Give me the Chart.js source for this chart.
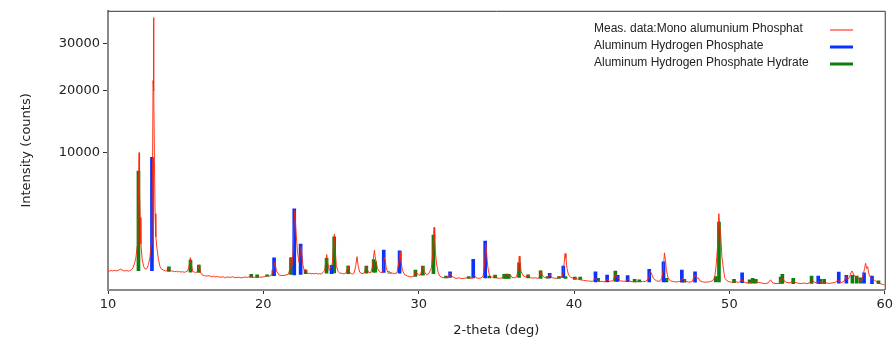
<!DOCTYPE html>
<html>
<head>
<meta charset="utf-8">
<script src="https://cdn.jsdelivr.net/npm/chart.js@4.4.1/dist/chart.umd.min.js"></script>
<style>
  html, body { margin: 0; padding: 0; background: #fff; }
  #wrap { width: 896px; height: 338px; }
</style>
</head>
<body>
<div id="wrap"><canvas id="xrdChart" width="896" height="338"></canvas></div>
<script>
// measured pattern: [2-theta, counts]
const measured = [
  [10.0, 440], [10.1, 425], [10.2, 445], [10.3, 430], [10.4, 450], [10.5, 435], [10.6, 440], [10.7, 455],
  [10.8, 480], [10.9, 460], [11.0, 440], [11.1, 430], [11.2, 445], [11.3, 425], [11.4, 440], [11.5, 460],
  [11.6, 520], [11.7, 650], [11.8, 900], [11.88, 1400], [11.93, 2800], [11.97, 6000], [12.0, 10000],
  [12.03, 5500], [12.07, 3200], [12.12, 1500], [12.2, 800], [12.3, 560], [12.4, 480], [12.5, 500],
  [12.6, 620], [12.7, 900], [12.78, 1500], [12.83, 2600], [12.87, 9000], [12.9, 22000], [12.93, 36300],
  [12.96, 20000], [12.99, 9000], [13.03, 3500], [13.08, 1900], [13.15, 1300], [13.25, 800], [13.35, 560],
  [13.45, 480], [13.6, 450], [13.7, 430], [13.8, 440], [13.9, 470], [13.95, 520], [14.0, 460], [14.1, 430],
  [14.2, 420], [14.3, 410], [14.4, 425], [14.5, 405], [14.6, 415], [14.7, 400], [14.8, 410], [14.9, 395],
  [15.0, 405], [15.1, 420], [15.2, 520], [15.3, 880], [15.36, 650], [15.45, 420], [15.55, 400], [15.65, 390],
  [15.75, 410], [15.82, 560], [15.87, 620], [15.95, 400], [16.05, 330], [16.2, 310], [16.35, 300], [16.5, 310],
  [16.6, 295], [16.7, 285], [16.8, 300], [16.9, 280], [17.0, 290], [17.2, 275], [17.4, 285], [17.5, 265],
  [17.7, 280], [17.9, 270], [18.0, 285], [18.2, 265], [18.4, 275], [18.6, 260], [18.8, 280], [19.0, 270],
  [19.2, 300], [19.3, 275], [19.5, 270], [19.7, 280], [19.9, 275], [20.1, 290], [20.25, 320], [20.4, 300],
  [20.55, 330], [20.65, 480], [20.72, 700], [20.78, 600], [20.85, 420], [21.0, 330], [21.2, 310], [21.4, 320],
  [21.6, 340], [21.72, 500], [21.78, 900], [21.85, 600], [21.92, 1200], [21.98, 3000], [22.02, 3750],
  [22.07, 2800], [22.12, 2000], [22.2, 1100], [22.3, 700], [22.36, 1000], [22.42, 1380], [22.48, 1000],
  [22.55, 600], [22.65, 420], [22.72, 480], [22.8, 380], [22.9, 360], [23.0, 370], [23.1, 350], [23.2, 365],
  [23.3, 355], [23.4, 370], [23.5, 350], [23.6, 360], [23.7, 350], [23.8, 370], [23.95, 450], [24.03, 800],
  [24.08, 1010], [24.15, 650], [24.25, 450], [24.35, 520], [24.45, 700], [24.52, 1500], [24.57, 2060],
  [24.62, 1300], [24.7, 600], [24.8, 420], [24.9, 380], [25.0, 370], [25.1, 360], [25.2, 355], [25.3, 370],
  [25.4, 480], [25.47, 590], [25.55, 400], [25.65, 360], [25.75, 350], [25.85, 380], [25.95, 600], [26.03, 920],
  [26.1, 600], [26.2, 400], [26.35, 360], [26.5, 380], [26.6, 520], [26.65, 560], [26.75, 400], [26.9, 380],
  [27.0, 500], [27.08, 820], [27.15, 1200], [27.2, 900], [27.27, 700], [27.35, 500], [27.45, 420], [27.55, 390],
  [27.7, 400], [27.78, 900], [27.84, 800], [27.9, 550], [28.0, 400], [28.1, 420], [28.2, 380], [28.3, 370],
  [28.45, 360], [28.6, 380], [28.72, 700], [28.8, 1150], [28.86, 750], [28.95, 450], [29.1, 330], [29.3, 300],
  [29.5, 280], [29.6, 290], [29.7, 300], [29.8, 420], [29.87, 380], [30.0, 330], [30.1, 320], [30.2, 450],
  [30.28, 570], [30.35, 420], [30.5, 330], [30.65, 360], [30.75, 450], [30.82, 520], [30.9, 1000], [30.95, 1900],
  [30.99, 2500], [31.03, 1800], [31.08, 1100], [31.15, 650], [31.25, 400], [31.35, 300], [31.5, 270], [31.7, 260],
  [31.8, 280], [31.9, 255], [32.0, 330], [32.05, 380], [32.12, 300], [32.25, 270], [32.4, 250], [32.6, 260],
  [32.8, 245], [33.0, 255], [33.2, 270], [33.35, 250], [33.5, 260], [33.6, 320], [33.7, 260], [33.85, 250],
  [34.0, 255], [34.15, 300], [34.25, 700], [34.32, 1530], [34.38, 1000], [34.45, 550], [34.55, 320], [34.7, 270],
  [34.9, 300], [35.0, 260], [35.2, 250], [35.4, 260], [35.55, 320], [35.65, 340], [35.75, 300], [35.9, 330],
  [36.0, 270], [36.15, 260], [36.3, 280], [36.42, 500], [36.47, 940], [36.52, 700], [36.6, 400], [36.75, 300],
  [36.9, 280], [37.05, 330], [37.15, 270], [37.3, 255], [37.5, 260], [37.7, 250], [37.8, 300], [37.87, 440],
  [37.95, 320], [38.1, 270], [38.3, 260], [38.45, 340], [38.55, 270], [38.7, 255], [38.9, 250], [39.05, 290],
  [39.2, 270], [39.3, 380], [39.37, 700], [39.42, 1050], [39.48, 850], [39.55, 500], [39.65, 320], [39.8, 270],
  [40.0, 250], [40.2, 240], [40.4, 220], [40.6, 210], [40.8, 200], [41.0, 195], [41.2, 190], [41.38, 260],
  [41.45, 220], [41.6, 185], [41.8, 190], [42.0, 180], [42.15, 230], [42.25, 190], [42.5, 200], [42.62, 300],
  [42.7, 350], [42.8, 260], [42.9, 230], [43.0, 200], [43.2, 190], [43.4, 200], [43.5, 240], [43.6, 190],
  [43.8, 185], [44.0, 180], [44.2, 195], [44.4, 185], [44.6, 190], [44.8, 240], [44.9, 420], [44.97, 380],
  [45.1, 250], [45.3, 200], [45.5, 190], [45.65, 250], [45.75, 500], [45.82, 1080], [45.88, 800], [45.95, 450],
  [46.05, 260], [46.2, 200], [46.4, 185], [46.6, 180], [46.8, 190], [46.95, 240], [47.05, 220], [47.2, 190],
  [47.4, 175], [47.6, 185], [47.7, 260], [47.8, 330], [47.9, 250], [48.0, 260], [48.1, 200], [48.3, 180],
  [48.5, 175], [48.7, 180], [48.9, 200], [49.05, 260], [49.15, 600], [49.25, 1500], [49.32, 3500], [49.38, 2600],
  [49.45, 1900], [49.52, 900], [49.6, 550], [49.7, 260], [49.85, 200], [50.0, 180], [50.2, 175], [50.4, 185],
  [50.6, 170], [50.8, 220], [50.9, 190], [51.0, 170], [51.2, 160], [51.4, 180], [51.55, 200], [51.7, 185],
  [51.9, 170], [52.1, 160], [52.3, 150], [52.5, 165], [52.65, 220], [52.8, 160], [53.0, 150], [53.2, 155],
  [53.35, 230], [53.45, 250], [53.55, 190], [53.7, 170], [53.9, 165], [54.05, 190], [54.2, 175], [54.4, 160],
  [54.6, 150], [54.8, 160], [55.0, 150], [55.2, 170], [55.35, 210], [55.45, 180], [55.6, 165], [55.75, 190],
  [55.85, 175], [56.0, 160], [56.2, 165], [56.4, 155], [56.6, 160], [56.8, 170], [57.0, 220], [57.1, 180],
  [57.25, 170], [57.4, 200], [57.52, 290], [57.6, 220], [57.72, 260], [57.8, 350], [57.88, 430], [57.95, 380],
  [58.05, 300], [58.2, 280], [58.35, 220], [58.5, 200], [58.6, 300], [58.7, 500], [58.77, 670], [58.83, 500],
  [58.9, 560], [58.98, 350], [59.1, 260], [59.25, 230], [59.4, 200], [59.55, 170], [59.7, 150], [59.85, 140],
  [60.0, 130]
];

// reference lines: [2-theta, from, to]
const alHydrogenPhosphate = [
  [12.83, 440, 9400], [20.69, 310, 875], [21.99, 330, 3900], [22.40, 340, 1500], [24.39, 360, 600],
  [27.75, 390, 1207], [28.77, 370, 1175], [32.02, 270, 410], [33.51, 260, 813], [34.28, 260, 1660],
  [38.43, 260, 368], [39.31, 270, 578], [41.38, 180, 410], [42.13, 180, 325], [42.81, 190, 320],
  [43.45, 185, 310], [44.84, 180, 477], [45.76, 180, 725], [46.94, 175, 457], [47.79, 175, 410],
  [50.82, 165, 383], [55.72, 155, 302], [57.04, 160, 402], [57.53, 160, 318], [58.67, 160, 383],
  [59.18, 150, 302]
];

const alHydrogenPhosphateHydrate = [
  [11.96, 440, 7700], [13.92, 420, 556], [15.31, 400, 787], [15.85, 390, 611], [19.22, 270, 342],
  [19.6, 270, 330], [20.24, 290, 330], [20.65, 310, 457], [21.78, 340, 875], [22.72, 360, 457],
  [24.07, 370, 850], [24.56, 380, 1900], [25.46, 360, 578], [26.63, 370, 578], [27.1, 400, 810],
  [27.2, 400, 725], [28.13, 370, 380], [29.79, 290, 457], [30.27, 320, 578], [30.95, 360, 2000],
  [31.76, 260, 300], [33.22, 250, 290], [34.54, 260, 300], [34.92, 260, 325], [35.5, 250, 342],
  [35.65, 250, 350], [35.8, 250, 342], [36.46, 270, 690], [37.04, 260, 330], [37.85, 250, 437],
  [38.3, 255, 290], [39.03, 250, 290], [39.45, 250, 290], [40.05, 230, 280], [40.4, 230, 280],
  [41.55, 190, 250], [42.66, 190, 430], [43.9, 180, 230], [44.2, 180, 220], [45.95, 180, 250],
  [47.1, 175, 230], [49.12, 180, 290], [49.33, 180, 2870], [50.3, 165, 230], [51.3, 160, 220],
  [51.5, 160, 250], [51.7, 160, 230], [53.3, 155, 280], [53.41, 155, 342], [54.11, 150, 250],
  [55.29, 155, 302], [55.85, 150, 230], [56.1, 150, 230], [57.92, 160, 320], [58.2, 160, 300],
  [58.45, 160, 260], [59.6, 150, 200]
];

const xTicks = [10, 20, 30, 40, 50, 60];
const yTicks = [10000, 20000, 30000];

const legendItems = [
  { text: 'Meas. data:Mono alumunium Phosphat', color: '#ff8a80', width: 2 },
  { text: 'Aluminum Hydrogen Phosphate', color: '#0a32ff', width: 3 },
  { text: 'Aluminum Hydrogen Phosphate Hydrate', color: '#0f7d0f', width: 3 }
];

// square-root intensity axis
class SqrtScale extends Chart.LinearScale {
  static id = 'sqrt';
  static defaults = {};
  buildTicks() {
    return yTicks.map(v => ({ value: v }));
  }
  getPixelForValue(value) {
    const a = Math.sqrt(this.min), b = Math.sqrt(this.max);
    const s = Math.sqrt(Math.max(value, 0));
    return this.getPixelForDecimal((s - a) / (b - a));
  }
  getValueForPixel(pixel) {
    const a = Math.sqrt(this.min), b = Math.sqrt(this.max);
    const s = a + this.getDecimalForPixel(pixel) * (b - a);
    return s * s;
  }
}
Chart.register(SqrtScale);

const framePlugin = {
  id: 'frame',
  afterDraw(chart) {
    const { ctx, chartArea: a } = chart;
    ctx.save();
    ctx.strokeStyle = '#333';
    ctx.lineWidth = 1;
    ctx.beginPath();
    ctx.moveTo(a.left, a.top + 0.5);
    ctx.lineTo(a.right + 0.5, a.top + 0.5);
    ctx.lineTo(a.right + 0.5, a.bottom);
    ctx.stroke();

    ctx.font = '12px "Liberation Sans", Arial, sans-serif';
    ctx.fillStyle = '#222';
    ctx.textBaseline = 'middle';
    legendItems.forEach((it, i) => {
      const y = 29 + i * 17;
      ctx.fillText(it.text, 594, y);
      ctx.strokeStyle = it.color;
      ctx.lineWidth = it.width;
      ctx.beginPath();
      ctx.moveTo(830, y + 1);
      ctx.lineTo(853, y + 1);
      ctx.stroke();
    });
    ctx.restore();
  }
};

const tickFont = { family: '"DejaVu Sans", Verdana, sans-serif', size: 13 };

new Chart(document.getElementById('xrdChart').getContext('2d'), {
  type: 'line',
  data: {
    datasets: [
      {
        label: legendItems[0].text,
        data: measured,
        borderColor: 'rgba(255,35,5,0.9)',
        borderWidth: 1,
        pointRadius: 0,
        tension: 0,
        fill: false,
        order: 0
      },
      {
        type: 'bar',
        label: legendItems[1].text,
        data: alHydrogenPhosphate.map(([x, lo, hi]) => ({ x, y: [lo, hi] })),
        backgroundColor: legendItems[1].color,
        barThickness: 3,
        grouped: false,
        order: 1
      },
      {
        type: 'bar',
        label: legendItems[2].text,
        data: alHydrogenPhosphateHydrate.map(([x, lo, hi]) => ({ x, y: [lo, hi] })),
        backgroundColor: legendItems[2].color,
        barThickness: 3,
        grouped: false,
        order: 1
      }
    ]
  },
  options: {
    responsive: false,
    animation: false,
    layout: { padding: { left: 0, right: 8, top: 10, bottom: 0 }, autoPadding: false },
    plugins: {
      legend: { display: false },
      tooltip: { enabled: false }
    },
    scales: {
      x: {
        type: 'linear',
        min: 10,
        max: 60,
        offset: false,
        afterFit: s => { s.height = 48; },
        afterBuildTicks: s => { s.ticks = xTicks.map(v => ({ value: v })); },
        ticks: { font: tickFont, color: '#222', padding: 3, maxRotation: 0, callback: v => String(v) },
        grid: { drawOnChartArea: false, drawTicks: true, tickLength: 4, tickColor: '#333', offset: false },
        border: { display: true, color: '#8a8a8a', width: 2 },
        title: { display: true, text: '2-theta (deg)', font: tickFont, color: '#222', padding: { top: 0, bottom: 0 } }
      },
      y: {
        type: 'sqrt',
        min: 64,
        max: 38050,
        afterFit: s => { s.width = 108; },
        ticks: { font: tickFont, color: '#222', padding: 3, callback: v => String(v) },
        grid: { drawOnChartArea: false, drawTicks: true, tickLength: 5, tickColor: '#333' },
        border: { display: true, color: '#8a8a8a', width: 2 },
        title: { display: true, text: 'Intensity (counts)', font: tickFont, color: '#222', padding: { top: 19, bottom: 0 } }
      }
    }
  },
  plugins: [framePlugin]
});
</script>
</body>
</html>
